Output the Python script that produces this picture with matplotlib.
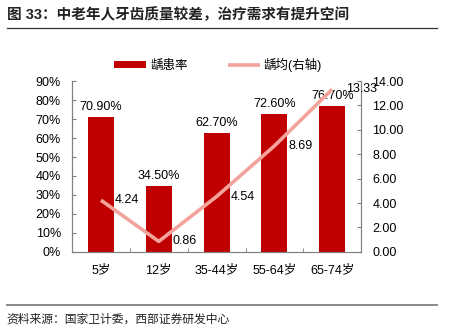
import matplotlib.pyplot as plt
import numpy as np

plt.rcParams['font.family'] = ['Liberation Sans', 'Noto Sans CJK SC']

# 各年龄组龋患率与龋均
ages = ['5岁', '12岁', '35-44岁', '55-64岁', '65-74岁']
caries_rate = [70.90, 34.50, 62.70, 72.60, 76.70]
dmft = [4.24, 0.86, 4.54, 8.69, 13.33]

bar_color = '#C00000'
line_color = '#F4A39C'
axis_gray = '#808080'

fig = plt.figure(figsize=(4.56, 3.31), dpi=100)
ax = fig.add_axes([0.158, 0.239, 0.634, 0.516])
ax2 = ax.twinx()

x = np.arange(len(ages))
ax.bar(x, caries_rate, width=0.45, color=bar_color, label='龋患率', zorder=2)
for xi, v in zip(x, caries_rate):
    ax.annotate(f'{v:.2f}%', (xi, v), xytext=(0, 3), textcoords='offset points',
                ha='center', va='bottom', fontsize=9)

ax2.plot(x, dmft, color=line_color, lw=2.6, solid_capstyle='butt', label='龋均(右轴)', zorder=3)
for xi, v in zip(x, dmft):
    ax2.annotate(f'{v:.2f}', (xi, v), xytext=(10, 0), textcoords='offset points',
                 ha='left', va='center', fontsize=9)

ax.set_xlim(-0.5, 4.5)
ax.set_ylim(0, 90)
ax.set_yticks(np.arange(0, 91, 10))
ax.set_yticklabels([f'{t}%' for t in range(0, 91, 10)])
ax2.set_ylim(0, 14)
ax2.set_yticks(np.arange(0, 15, 2))
ax2.set_yticklabels([f'{t:.2f}' for t in range(0, 15, 2)])

ax.set_xticks(x)
ax.set_xticklabels(ages)
ax.set_xticks(np.arange(0.5, 4, 1), minor=True)
ax.tick_params(axis='x', which='major', length=0, pad=9, labelsize=9)
ax.tick_params(axis='x', which='minor', length=3, direction='in', color=axis_gray)
ax.tick_params(axis='y', length=3, direction='in', color=axis_gray, pad=8, labelsize=9)
ax2.tick_params(axis='y', length=3, direction='in', color=axis_gray, pad=8, labelsize=9)

for a in (ax, ax2):
    a.spines['top'].set_visible(False)
    for s in ('left', 'right', 'bottom'):
        a.spines[s].set_color(axis_gray)
        a.spines[s].set_linewidth(0.8)

h1, l1 = ax.get_legend_handles_labels()
h2, l2 = ax2.get_legend_handles_labels()
fig.legend(h1 + h2, l1 + l2, loc='center', bbox_to_anchor=(0.478, 0.805), ncol=2,
           frameon=False, fontsize=9, handlelength=2.6, handleheight=0.5,
           columnspacing=3.2, handletextpad=0.3)

fig.text(0.015, 0.957, '图 33：中老年人牙齿质量较差，治疗需求有提升空间',
         fontsize=10.5, fontweight='bold', ha='left', va='center', color='#222222')
fig.add_artist(plt.Line2D([0.015, 0.958], [0.915, 0.915], color='#333333', lw=0.9))
fig.add_artist(plt.Line2D([0.015, 0.958], [0.079, 0.079], color='#888888', lw=1.4))
fig.text(0.015, 0.035, '资料来源：国家卫计委，西部证券研发中心',
         fontsize=8.5, ha='left', va='center', color='#222222')

fig.savefig('out.png', dpi=100)
